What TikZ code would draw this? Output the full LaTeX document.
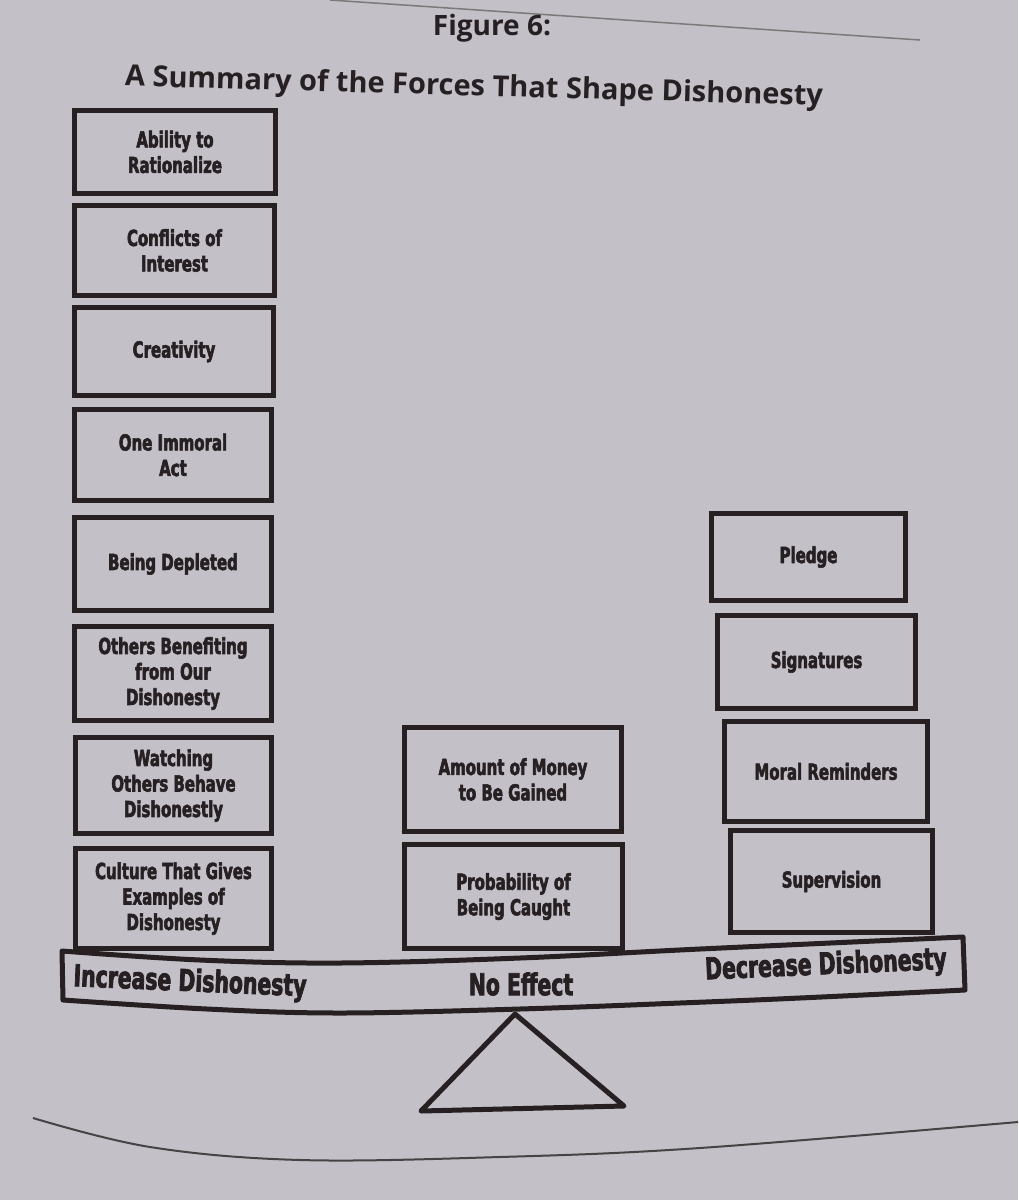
\documentclass[tikz,border=0pt]{standalone}
\usepackage{fontspec}
\newfontfamily\boxfont[FakeStretch=0.68,FakeBold=2.5]{DejaVu Sans}
\newfontfamily\titlefont{Open Sans}
\definecolor{paper}{RGB}{195,192,200}
\definecolor{ink}{RGB}{38,32,35}
\tikzset{
  box/.style={draw=ink, line width=5pt, rectangle, anchor=north west, inner sep=0pt,
    align=center, text=ink, font={\boxfont\bfseries\fontsize{22}{25.5}\selectfont}},
  beamlabel/.style={text=ink, inner sep=0pt, font={\boxfont\bfseries\fontsize{30}{32}\selectfont}},
  heavy/.style={draw=ink, line width=5pt, line join=round}
}
\begin{document}
\begin{tikzpicture}[x=1pt,y=-1pt]
\fill[paper] (0,0) rectangle (1018,1200);
\useasboundingbox (0,0) rectangle (1018,1200);
% page rules
\draw[ink!60, line width=1.5pt] (330,0) -- (920,40);
\draw[ink!85, line width=2pt] plot[smooth, tension=0.6] coordinates {(33,1118) (150,1147) (300,1160) (500,1157) (700,1148) (1018,1122)};
% titles
\node[text=ink, font={\titlefont\bfseries\fontsize{28}{32}\selectfont}] (fig) at (492,28) {Figure 6:};
\node[text=ink, rotate=-1.6, font={\titlefont\bfseries\fontsize{29}{33}\selectfont}] (ttl) at (474,88) {A Summary of the Forces That Shape Dishonesty};
% left column
\node[box, minimum width=201pt, minimum height=83pt] (b1) at (72,108) {Ability to\\Rationalize};
\node[box, minimum width=200pt, minimum height=90pt] (b2) at (72,203) {Conflicts of\\Interest};
\node[box, minimum width=199pt, minimum height=88pt] (b3) at (72,305) {Creativity};
\node[box, minimum width=197pt, minimum height=91pt] (b4) at (72,407) {One Immoral\\Act};
\node[box, minimum width=197pt, minimum height=93pt] (b5) at (72,515) {Being Depleted};
\node[box, minimum width=197pt, minimum height=94pt] (b6) at (72,624) {Others Benefiting\\from Our\\Dishonesty};
\node[box, minimum width=196pt, minimum height=96pt] (b7) at (73,735) {Watching\\Others Behave\\Dishonestly};
\node[box, minimum width=196pt, minimum height=100pt] (b8) at (73,846) {Culture That Gives\\Examples of\\Dishonesty};
% middle column
\node[box, minimum width=217pt, minimum height=104pt] (m1) at (402,725) {Amount of Money\\to Be Gained};
\node[box, minimum width=218pt, minimum height=104pt] (m2) at (402,842) {Probability of\\Being Caught};
% right column
\node[box, minimum width=194pt, minimum height=87pt] (r1) at (709,511) {Pledge};
\node[box, minimum width=198pt, minimum height=93pt] (r2) at (715,613) {Signatures};
\node[box, minimum width=203pt, minimum height=100pt] (r3) at (722,719) {Moral Reminders};
\node[box, minimum width=202pt, minimum height=102pt] (r4) at (728,828) {Supervision};
% beam
\draw[heavy] plot[smooth, tension=0.6] coordinates {(62,951) (200,960) (340,963) (520,958) (700,949) (963,937)}
  -- (965,990)
  -- plot[smooth, tension=0.6] coordinates {(965,990) (800,998) (680,1003) (520,1009) (340,1013) (207,1009) (63,1000)}
  -- cycle;
\node[beamlabel, rotate=-2.5] (inc) at (190,983) {Increase Dishonesty};
\node[beamlabel] (noe) at (521,984) {No Effect};
\node[beamlabel, rotate=2.5] (dec) at (826,966) {Decrease Dishonesty};
% fulcrum
\draw[heavy] (515,1014) -- (624,1106) -- (421,1111) -- cycle;
\end{tikzpicture}
\end{document}
